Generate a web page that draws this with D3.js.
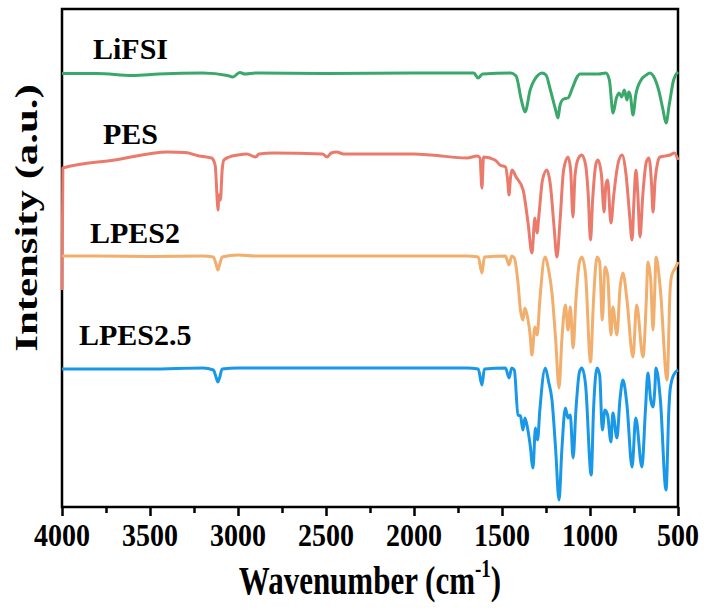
<!DOCTYPE html>
<html><head><meta charset="utf-8">
<script src="https://cdn.jsdelivr.net/npm/d3@7"></script>
<style>body{margin:0;background:#fff}</style>
</head><body><svg id="c" width="704" height="615"></svg>
<script>
// ---- data (wavenumber cm^-1, offset intensity a.u.) ----
const seriesNames = ["LiFSI", "PES", "LPES2", "LPES2.5"];
const seriesColors = ["#3aa86a", "#ea7a6c", "#f1ae6c", "#1a98e8"];
const xTicks = [4000, 3500, 3000, 2500, 2000, 1500, 1000, 500];
const xMinorTicks = [3750, 3250, 2750, 2250, 1750, 1250, 750];
const xTitle = "Wavenumber (cm";
const yTitle = "Intensity (a.u.)";

const lifsi = [
  [4000,433.5],[3800,433.5],[3600,431.5],[3450,433],[3200,434],[3060,431.5],[3030,430],[2990,434.5],
  [2960,433],[2900,434],[2500,433.5],[2000,434],[1660,434],[1636,429],[1610,433],[1450,434],[1420,431],
  [1390,407],[1369,395],[1340,417],[1300,431],[1273,434],[1250,432],[1225,417],[1195,397],[1182,389],
  [1170,402],[1150,408],[1125,409],[1100,419],[1070,431],[1057,433],[950,433],[910,434],[890,427],
  [869,394],[850,409],[835,414],[820,410],[805,417],[790,407],[780,415],[770,411],[756,392],[740,412],
  [710,427],[680,432],[659,434],[640,431],[610,417],[585,397],[568,384],[550,402],[525,427],[510,433],[500,435]
];
const pes = [
  [4000,217],[3995,339],[3700,347],[3400,355],[3300,354.5],[3220,351],[3180,350],[3150,349],[3130,342],
  [3118,307],[3114,297],[3108,312],[3100,307],[3090,337],[3080,347],[3050,350],[3000,352],[2950,353],
  [2900,350],[2880,353],[2800,354],[2520,353],[2494,350],[2470,354],[2440,355],[2400,353],[2000,353],
  [1900,352],[1700,349],[1640,351],[1625,349],[1614,319],[1605,350],[1540,347],[1511,342],[1480,340],
  [1468,327],[1460,312],[1452,329],[1443,337],[1420,330],[1380,317],[1352,284],[1330,254],[1313,289],
  [1301,274],[1290,292],[1270,327],[1245,337],[1225,322],[1205,282],[1188,250],[1170,287],[1150,337],
  [1125,350],[1110,337],[1097,290],[1085,332],[1065,349],[1046,352],[1025,342],[1010,312],[997,267],
  [985,307],[965,344],[955,347],[935,332],[920,295],[910,322],[900,327],[881,284],[865,312],[840,344],
  [818,352],[795,332],[775,292],[761,267],[750,307],[739,337],[728,312],[716,270],[700,312],[680,345],
  [665,349],[650,322],[642,295],[630,327],[615,345],[602,350],[545,352],[520,354],[500,347]
];
const lpes2 = [
  [4000,251],[3800,251],[3500,250.5],[3200,251],[3140,250],[3125,243],[3114,237],[3105,242],[3090,250],
  [3000,252],[2900,251],[2500,251],[2000,251],[1700,251],[1635,250],[1614,234],[1600,250],[1480,251],
  [1460,242],[1445,251],[1430,249],[1409,224],[1395,197],[1381,187],[1370,199],[1355,190],[1340,172],
  [1330,152],[1313,180],[1300,172],[1285,207],[1256,250],[1235,237],[1216,214],[1195,167],[1176,119],
  [1160,167],[1140,202],[1125,177],[1112,200],[1096,159],[1080,207],[1060,245],[1046,250],[1025,232],
  [997,145],[980,207],[960,250],[945,245],[930,187],[915,240],[900,232],[881,172],[870,200],[847,172],
  [830,217],[813,234],[790,207],[756,150],[735,202],[699,150],[680,207],[671,245],[655,227],[642,177],
  [632,217],[625,250],[600,217],[562,127],[545,217],[535,232],[515,239],[500,245]
];
const lpes25 = [
  [4000,138],[3800,138],[3500,138],[3200,139],[3140,137],[3125,130],[3114,125],[3105,129],[3090,138],
  [3000,139],[2500,139],[2000,139],[1700,139],[1635,138],[1614,122],[1600,138],[1480,139],[1460,129],
  [1445,139],[1430,137],[1409,92],[1395,91],[1381,77],[1370,89],[1355,79],[1340,62],[1324,39],[1310,79],
  [1298,67],[1285,97],[1254,139],[1235,125],[1216,107],[1195,57],[1176,7],[1160,57],[1140,99],[1125,89],
  [1112,92],[1096,49],[1080,97],[1060,135],[1046,139],[1025,122],[993,32],[980,97],[960,139],[945,132],
  [930,77],[915,97],[900,92],[881,65],[870,94],[847,69],[830,107],[813,127],[790,102],[761,40],[740,89],
  [705,40],[685,97],[671,134],[655,107],[642,100],[632,117],[625,139],[600,107],[568,17],[552,97],
  [545,117],[525,132],[500,137]
];
const allSeries = [lifsi, pes, lpes2, lpes25];

// ---- layout ----
const svg = d3.select("#c");
const L = 62, R = 678, T = 9, B = 507;
const x = d3.scaleLinear().domain([4000, 500]).range([L, R]);
const y = d3.scaleLinear().domain([0, 498]).range([B, T]);
const serif = "'Liberation Serif','Times New Roman',serif";

// frame
svg.append("rect").attr("x", L).attr("y", T).attr("width", R - L).attr("height", B - T)
  .attr("fill", "none").attr("stroke", "#000").attr("stroke-width", 2.5);

// major ticks via axis
const ax = svg.append("g").attr("transform", `translate(0,${B})`)
  .call(d3.axisBottom(x).tickValues(xTicks).tickSize(9).tickSizeOuter(0).tickFormat(""));
ax.select(".domain").remove();
ax.selectAll("line").attr("stroke", "#000").attr("stroke-width", 2.5);
const axm = svg.append("g").attr("transform", `translate(0,${B})`)
  .call(d3.axisBottom(x).tickValues(xMinorTicks).tickSize(6).tickFormat(""));
axm.select(".domain").remove();
axm.selectAll("line").attr("stroke", "#000").attr("stroke-width", 2.5);

// tick labels
svg.selectAll("text.tl").data(xTicks).enter().append("text").attr("class", "tl")
  .attr("transform", d => `translate(${x(d)},546) scale(1,1.15)`)
  .attr("text-anchor", "middle").attr("font-family", serif).attr("font-weight", "bold")
  .attr("font-size", 28).text(d => d);

// x title
const xt = svg.append("text").attr("transform", "translate(370,594) scale(1,1.3)")
  .attr("text-anchor", "middle").attr("font-family", serif).attr("font-weight", "bold")
  .attr("font-size", 31);
xt.append("tspan").text(xTitle);
xt.append("tspan").attr("font-size", 19).attr("dy", -13).text("-1");
xt.append("tspan").attr("dy", 13).text(")");

// y title
svg.append("text").attr("transform", "translate(37,218) rotate(-90) scale(1.38,1)")
  .attr("text-anchor", "middle").attr("font-family", serif).attr("font-weight", "bold")
  .attr("font-size", 31).text(yTitle);

// lines
const line = d3.line().x(d => x(d[0])).y(d => y(d[1])).curve(d3.curveMonotoneX);
allSeries.forEach((s, i) => {
  svg.append("path").datum(s).attr("d", line).attr("fill", "none")
    .attr("stroke", seriesColors[i]).attr("stroke-width", 3).attr("stroke-linejoin", "round");
});

// series labels
const labelPos = [[93, 59], [103, 144], [90, 243], [79, 345]];
seriesNames.forEach((n, i) => {
  svg.append("text").attr("x", labelPos[i][0]).attr("y", labelPos[i][1])
    .attr("font-family", serif).attr("font-weight", "bold").attr("font-size", 30).text(n);
});
</script></body></html>
